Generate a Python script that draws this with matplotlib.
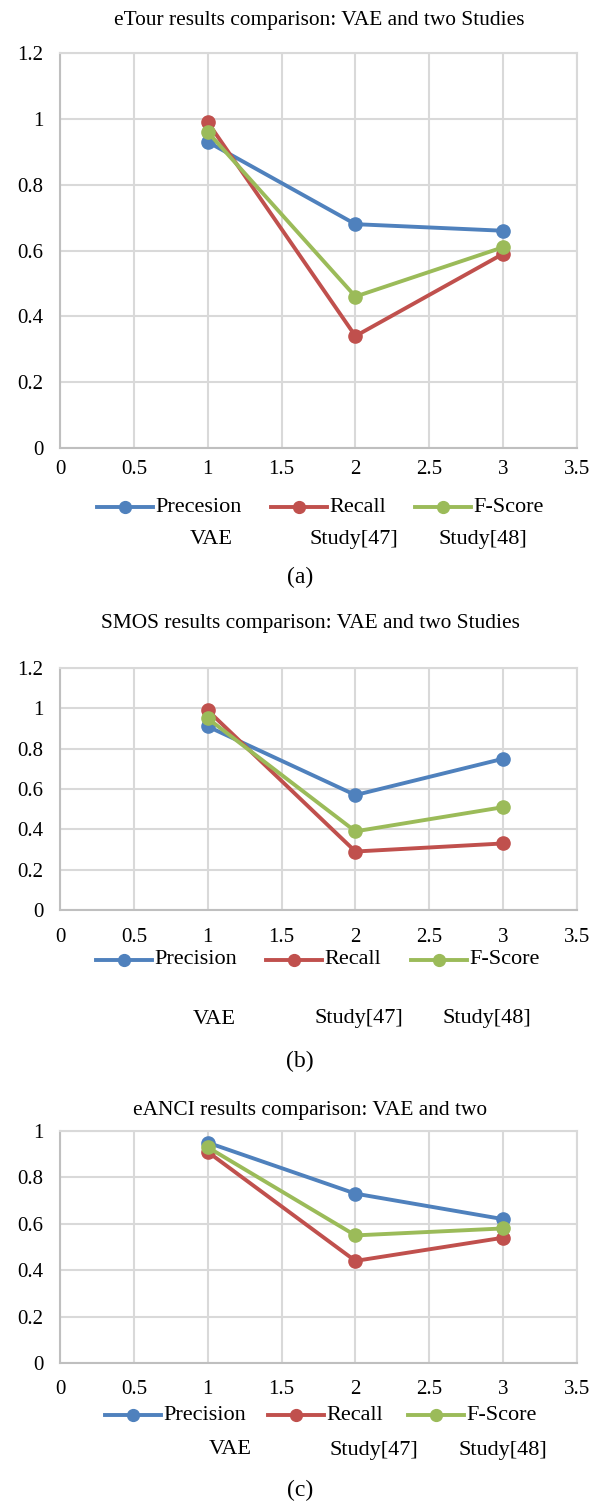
import matplotlib
matplotlib.use("Agg")
import matplotlib.pyplot as plt
import numpy as np

plt.rcParams['font.family'] = ['Liberation Serif', 'DejaVu Serif']

x_pos = [1, 2, 3]
categories = ["VAE", "Study[47]", "Study[48]"]
series_names_a = ["Precesion", "Recall", "F-Score"]
series_names = ["Precision", "Recall", "F-Score"]

etour_precision = [0.93, 0.68, 0.66]
etour_recall = [0.99, 0.34, 0.59]
etour_fscore = [0.96, 0.46, 0.61]

smos_precision = [0.91, 0.57, 0.75]
smos_recall = [0.99, 0.29, 0.33]
smos_fscore = [0.95, 0.39, 0.51]

eanci_precision = [0.95, 0.73, 0.62]
eanci_recall = [0.91, 0.44, 0.54]
eanci_fscore = [0.93, 0.55, 0.58]

xticks = [0, 0.5, 1, 1.5, 2, 2.5, 3, 3.5]
colors = ["#4F81BD", "#C0504D", "#9BBB59"]

W, H = 600, 1503
fig = plt.figure(figsize=(W / 100, H / 100), dpi=100)

def fx(px):
    return px / W

def fy(py):
    return 1 - py / H

def tick_fmt(v):
    return "0" if v == 0 else ("%g" % v)

panels = [
    dict(title="eTour results comparison: VAE and two Studies", title_x=319, title_y=20,
         top=53, bottom=448, ymax=1.2, data=[etour_precision, etour_recall, etour_fscore],
         names=series_names_a, xlab_y=470, leg_y=507, leg_x=[97, 271, 415],
         cat_x=[211, 354, 483], cat_y=540, sub="(a)", sub_y=577),
    dict(title="SMOS results comparison: VAE and two Studies", title_x=310, title_y=623,
         top=668, bottom=910, ymax=1.2, data=[smos_precision, smos_recall, smos_fscore],
         names=series_names, xlab_y=937, leg_y=960, leg_x=[96, 266, 411],
         cat_x=[214, 359, 487], cat_y=1019, sub="(b)", sub_y=1061),
    dict(title="eANCI results comparison: VAE and two", title_x=310, title_y=1110,
         top=1131, bottom=1363, ymax=1.0, data=[eanci_precision, eanci_recall, eanci_fscore],
         names=series_names, xlab_y=1390, leg_y=1415, leg_x=[105, 268, 408],
         cat_x=[230, 374, 503], cat_y=1450, sub="(c)", sub_y=1490),
]

L, R = 60, 577
fs_tick = 15
fs_text = 16

for p in panels:
    ax = fig.add_axes([fx(L), fy(p["bottom"]), fx(R - L), (p["bottom"] - p["top"]) / H])
    ax.set_xlim(0, 3.5)
    ax.set_ylim(0, p["ymax"])
    ax.set_xticks(xticks)
    yt = np.round(np.arange(0, p["ymax"] + 0.001, 0.2), 1)
    ax.set_yticks(yt)
    ax.set_yticklabels([tick_fmt(v) for v in yt], fontsize=fs_tick)
    ax.set_xticklabels([])
    ax.grid(True, color="#D9D9D9", linewidth=1.5)
    ax.set_axisbelow(True)
    ax.tick_params(length=0, pad=12)
    for s in ["top", "right"]:
        ax.spines[s].set_color("#D9D9D9")
        ax.spines[s].set_linewidth(1.5)
    for s in ["left", "bottom"]:
        ax.spines[s].set_color("#BFBFBF")
        ax.spines[s].set_linewidth(1.5)
    for vals, c in zip(p["data"], colors):
        ax.plot(x_pos, vals, color=c, linewidth=2.8, marker="o", markersize=9.5,
                solid_capstyle="round", clip_on=False, zorder=3)
    for v in xticks:
        fig.text(fx(L + (R - L) * v / 3.5), fy(p["xlab_y"]), tick_fmt(v),
                 ha="center", va="center", fontsize=fs_tick)
    fig.text(fx(p["title_x"]), fy(p["title_y"]), p["title"], ha="center", va="center",
             fontsize=15.4)
    for name, c, lx in zip(p["names"], colors, p["leg_x"]):
        line = plt.Line2D([fx(lx), fx(lx + 56)], [fy(p["leg_y"])] * 2, transform=fig.transFigure,
                          color=c, linewidth=2.8)
        fig.add_artist(line)
        mk = plt.Line2D([fx(lx + 28)], [fy(p["leg_y"])], transform=fig.transFigure,
                        color=c, marker="o", markersize=8.5, linestyle="none")
        fig.add_artist(mk)
        fig.text(fx(lx + 58), fy(p["leg_y"]), name, ha="left", va="center", fontsize=fs_text)
    for cx, cat in zip(p["cat_x"], categories):
        fig.text(fx(cx), fy(p["cat_y"]), cat, ha="center", va="center", fontsize=fs_text)
    fig.text(0.5, fy(p["sub_y"]), p["sub"], ha="center", va="center", fontsize=17)

fig.savefig("out.png", dpi=100, facecolor="white")
